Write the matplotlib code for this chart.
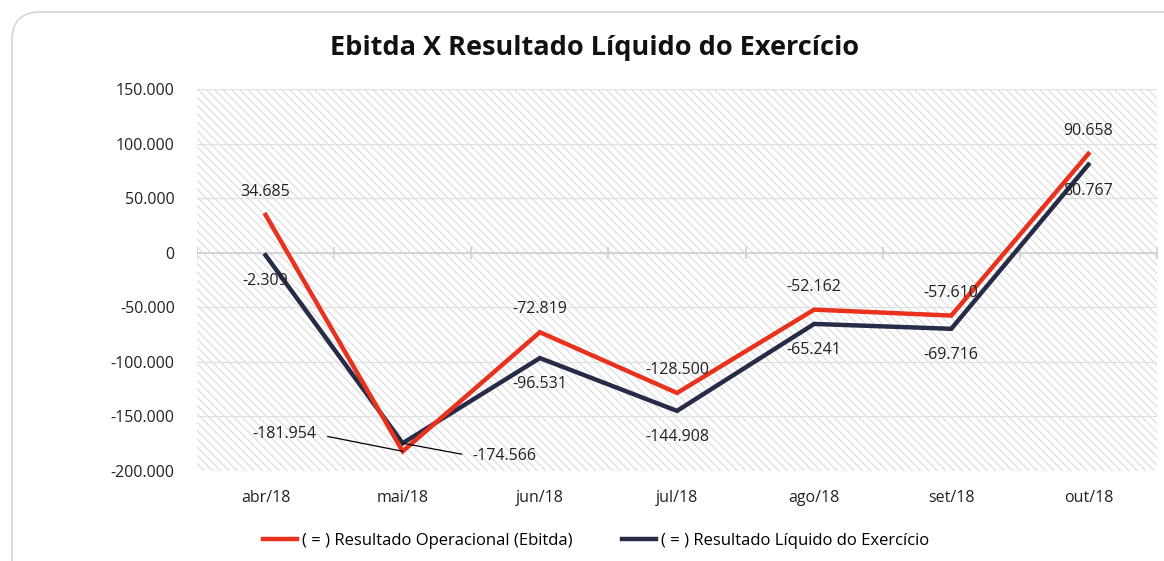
"""Ebitda x Resultado Líquido do Exercício, abr/18 a out/18."""

import matplotlib

matplotlib.use("Agg")
import matplotlib.pyplot as plt
import numpy as np
from matplotlib.patches import FancyBboxPatch, Rectangle
from matplotlib.ticker import FuncFormatter

MONTHS = ["abr/18", "mai/18", "jun/18", "jul/18", "ago/18", "set/18", "out/18"]
EBITDA = [34685, -181954, -72819, -128500, -52162, -57610, 90658]
NET_RESULT = [-2309, -174566, -96531, -144908, -65241, -69716, 80767]
Y_TICKS = [-200000, -150000, -100000, -50000, 0, 50000, 100000, 150000]
SERIES_NAMES = [
    "( = ) Resultado Operacional (Ebitda)",
    "( = ) Resultado Líquido do Exercício",
]
TITLE = "Ebitda X Resultado Líquido do Exercício"

RED = "#E8321E"
NAVY = "#262B47"
GRID = "#E0E0E0"

plt.rcParams["font.family"] = ["Open Sans", "DejaVu Sans"]
plt.rcParams["hatch.linewidth"] = 0.9


def br_number(value, _pos=None):
    return f"{int(value):,}".replace(",", ".")


fig = plt.figure(figsize=(11.64, 5.61), dpi=100)

# moldura arredondada do gráfico (corta à direita e embaixo)
frame = FancyBboxPatch(
    (0.12, -0.4), 11.8, 5.89,
    boxstyle="round,pad=0,rounding_size=0.28",
    transform=fig.dpi_scale_trans,
    facecolor="none", edgecolor="#D6D6D6", linewidth=1.2, zorder=-1,
)
fig.patches.append(frame)

ax = fig.add_axes([197 / 1164, 1 - 471 / 561, 960 / 1164, 382 / 561])
ax.set_facecolor("none")

# fundo hachurado
ax.add_patch(Rectangle(
    (0, 0), 1, 1, transform=ax.transAxes,
    facecolor="white", edgecolor="#DEDEDE", hatch="\\\\\\\\", linewidth=0,
    zorder=0,
))

x = np.arange(len(MONTHS))
ax.set_xlim(-0.5, len(MONTHS) - 0.5)
ax.set_ylim(Y_TICKS[0], Y_TICKS[-1])
ax.set_yticks(Y_TICKS)
ax.yaxis.set_major_formatter(FuncFormatter(br_number))
ax.set_xticks(x, MONTHS)
ax.yaxis.grid(True, color=GRID, linewidth=0.9, zorder=1)
ax.set_axisbelow(True)
for spine in ax.spines.values():
    spine.set_visible(False)
ax.tick_params(axis="both", length=0, labelsize=11.5, colors="#222222")
ax.tick_params(axis="y", pad=16)
ax.tick_params(axis="x", pad=14)

# eixo zero com marcas entre categorias
ax.axhline(0, color="#D0D0D0", linewidth=1.2, zorder=2)
bounds = np.arange(len(MONTHS) + 1) - 0.5
ax.plot(bounds, np.zeros_like(bounds), linestyle="none", marker="|",
        markersize=8, markeredgewidth=1.2, color="#D0D0D0", zorder=2)

ax.plot(x, EBITDA, color=RED, linewidth=3.2, solid_joinstyle="miter",
        label=SERIES_NAMES[0], zorder=4)
ax.plot(x, NET_RESULT, color=NAVY, linewidth=3.2, solid_joinstyle="miter",
        label=SERIES_NAMES[1], zorder=3)

label_kw = dict(textcoords="offset pixels", ha="center", va="center",
                fontsize=11.5, color="#222222", zorder=6)
for i, value in enumerate(EBITDA):
    if i == 1:
        ax.annotate(br_number(value), (x[i], value), xytext=(-118, 17),
                    arrowprops=dict(arrowstyle="-", color="black", lw=0.9,
                                    shrinkA=6, shrinkB=0, relpos=(1, 0.5)),
                    **label_kw)
    else:
        ax.annotate(br_number(value), (x[i], value), xytext=(0, 23), **label_kw)
for i, value in enumerate(NET_RESULT):
    if i == 1:
        ax.annotate(br_number(value), (x[i], value), xytext=(102, -13),
                    arrowprops=dict(arrowstyle="-", color="black", lw=0.9,
                                    shrinkA=6, shrinkB=0, relpos=(0, 0.5)),
                    **label_kw)
    else:
        ax.annotate(br_number(value), (x[i], value), xytext=(0, -26), **label_kw)

fig.text(595 / 1164, 1 - 48 / 561, TITLE, ha="center", va="center",
         fontsize=19.5, fontweight="bold", color="#111111")

fig.legend(loc="center", bbox_to_anchor=(596 / 1164, 1 - 541 / 561), ncol=2,
           frameon=False, fontsize=12, handlelength=2.0, handletextpad=0.3,
           columnspacing=3.0)

fig.savefig("out.png", dpi=100)
plt.close(fig)
